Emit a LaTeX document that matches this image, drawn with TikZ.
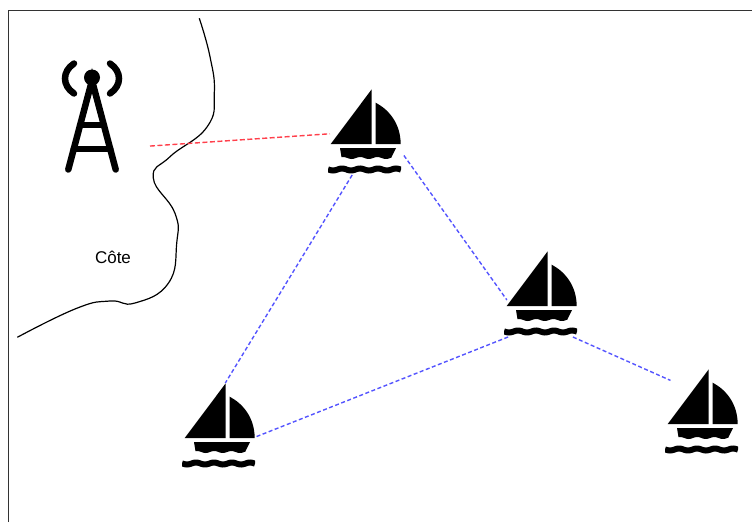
\documentclass[tikz,border=0pt]{standalone}
\usepackage{fontspec}
\setmainfont{Liberation Sans}
\usepackage{xcolor}
\definecolor{linkblue}{rgb}{0.33,0.33,1}
\definecolor{linkred}{rgb}{1,0.25,0.3}
\definecolor{framegray}{rgb}{0.2,0.2,0.2}
\newcommand{\boatshape}{
    \fill (7.2,-42.7) -- (7.2,12) -- (-33.8,12) -- cycle;
    \fill (11.2,-29.3) .. controls (25,-22) and (36,-8) .. (36.2,12) -- (11.2,12) -- cycle;
    \fill (-24.5,16) -- (31.5,16) -- (27,25) -- plot[domain=27:-23,samples=40] (\x,{26+1*sin(\x*21)}) -- cycle;
    \draw[line width=6pt] plot[domain=-36.5:36.5,samples=60] (\x,{37.5+1*sin(\x*20)});
}
\newcommand{\towershape}{
    \fill (0,-39) circle (8);
    \draw (-23.7,53) -- (0,-36) -- (23.7,53);
    \draw (-11.9,8.5) -- (11.9,8.5);
    \draw (-18.3,32.5) -- (18.3,32.5);
    \draw (-18,-53) .. controls (-30,-45) and (-30,-31) .. (-18,-23);
    \draw (18,-53) .. controls (30,-45) and (30,-31) .. (18,-23);
}

\begin{document}
\begin{tikzpicture}[x=1pt,y=-1pt,
    boat/.style={inner sep=0,outer sep=0,minimum width=73pt,minimum height=86pt,
        path picture={\begin{scope}[shift={(path picture bounding box.center)}]\boatshape\end{scope}}},
    tower/.style={inner sep=0,outer sep=0,minimum width=116pt,minimum height=118pt,
        path picture={\begin{scope}[shift={(path picture bounding box.center)},line width=6.5pt,line cap=round]\towershape\end{scope}}},
    link/.style={linkblue,dashed,dash pattern=on 4pt off 2.5pt,line width=1.4pt},
    radio/.style={linkred,dashed,dash pattern=on 5pt off 2.5pt,line width=1.4pt}]
        \useasboundingbox (0,0) rectangle (752,522);
        \draw[framegray,line width=1pt] (8.5,522) -- (8.5,10.5) -- (752,10.5);
        \draw[line width=1.2pt] plot[smooth,tension=0.8] coordinates {(199.3,18.3) (210,56.7) (214.3,93.3) (207,127) (170,156.7) (153.3,178) (175,213.3) (176.7,243.3) (168.3,283.3) (135,303) (110,301) (76.7,308.3) (17.3,337.3)};
        \node (cote) at (113,257) {\fontsize{17}{20}\selectfont Côte};
        \node[tower] (antenne) at (92,116.5) {};
        \node[boat] (boatA) at (364.5,132) {};
        \node[boat] (boatB) [right of = boatA,node distance=176pt,yshift=-162pt] {};
        \node[boat] (boatC) [left of = boatA,node distance=146pt,yshift=-294pt] {};
        \node[boat] (boatD) [right of = boatB,node distance=161pt,yshift=-118pt] {};
        \path[radio] (antenne.333) edge[shorten >=-2pt] (boatA.183);
        \path[link] (boatA.254) edge (boatC.81)
        (boatA.332) edge[shorten <=5pt,shorten >=-5pt] (boatB.183)
        (boatB.233) edge (boatC.343)
        (boatB.307) edge[shorten >=-6pt] (boatD.137)
        ;
    \end{tikzpicture}
\end{document}
